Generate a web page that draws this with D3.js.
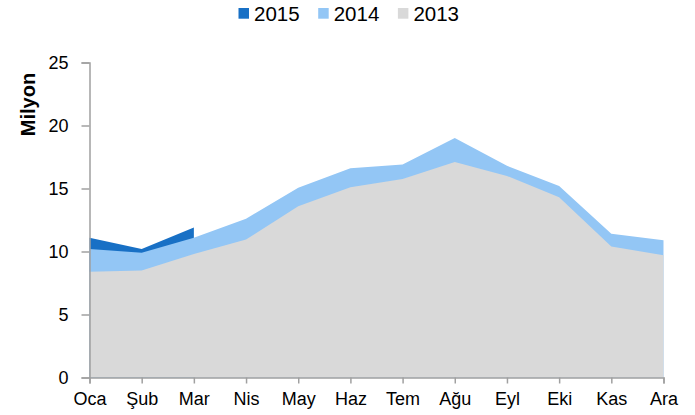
<!DOCTYPE html>
<html>
<head>
<meta charset="utf-8">
<script src="https://d3js.org/d3.v7.min.js"></script>
<style>
  body { margin: 0; background: #fff; }
  text { font-family: "Liberation Sans", Arial, sans-serif; fill: #000; }
</style>
</head>
<body>
<svg id="chart" width="695" height="415"></svg>
<script>
var months = ["Oca", "Şub", "Mar", "Nis", "May", "Haz", "Tem", "Ağu", "Eyl", "Eki", "Kas", "Ara"];
var v2015 = [11.1, 10.2, 11.9];
var v2014 = [10.2, 9.9, 11.1, 12.6, 15.05, 16.6, 16.9, 19.0, 16.8, 15.2, 11.4, 10.9];
var v2013 = [8.4, 8.5, 9.8, 10.95, 13.6, 15.1, 15.75, 17.1, 16.0, 14.3, 10.4, 9.7];
var yTicks = [0, 5, 10, 15, 20, 25];

var series = [
  { name: "2015", values: v2015, color: "#1870C5" },
  { name: "2014", values: v2014, color: "#93C6F5" },
  { name: "2013", values: v2013, color: "#D9D9D9" }
];

var svg = d3.select("#chart");

var x = d3.scalePoint().domain(months).range([89.5, 663.5]);
var y = d3.scaleLinear().domain([0, 25]).range([377.5, 62.5]);

// areas overlap, older years in front
var area = d3.area()
  .x(function (d, i) { return x(months[i]); })
  .y0(y(0))
  .y1(function (d) { return y(d); });

svg.append("g")
  .selectAll("path")
  .data(series)
  .enter()
  .append("path")
  .attr("d", function (d) { return area(d.values); })
  .attr("fill", function (d) { return d.color; });

// y axis
var yAxis = svg.append("g")
  .attr("transform", "translate(89.5,0)")
  .call(d3.axisLeft(y).tickValues(yTicks).tickSize(8).tickPadding(13));
yAxis.selectAll("text").style("font-size", "18px");

// x axis
var xAxis = svg.append("g")
  .attr("transform", "translate(0,377.5)")
  .call(d3.axisBottom(x).tickSize(6).tickPadding(9));
xAxis.selectAll("text").style("font-size", "18px");

svg.selectAll(".domain, .tick line").attr("stroke", "#A0A0A0").attr("stroke-width", 1.5);

svg.append("text")
  .attr("transform", "translate(35,104.5) rotate(-90)")
  .attr("text-anchor", "middle")
  .style("font-size", "20px")
  .style("font-weight", "bold")
  .text("Milyon");

// legend
var legend = svg.append("g")
  .selectAll("g")
  .data(series)
  .enter()
  .append("g")
  .attr("transform", function (d, i) { return "translate(" + (238.5 + i * 79.7) + ",0)"; });

legend.append("rect")
  .attr("x", 0)
  .attr("y", 8)
  .attr("width", 10.5)
  .attr("height", 10.7)
  .attr("fill", function (d) { return d.color; });

legend.append("text")
  .attr("x", 15.5)
  .attr("y", 20.7)
  .style("font-size", "20.5px")
  .text(function (d) { return d.name; });
</script>
</body>
</html>
